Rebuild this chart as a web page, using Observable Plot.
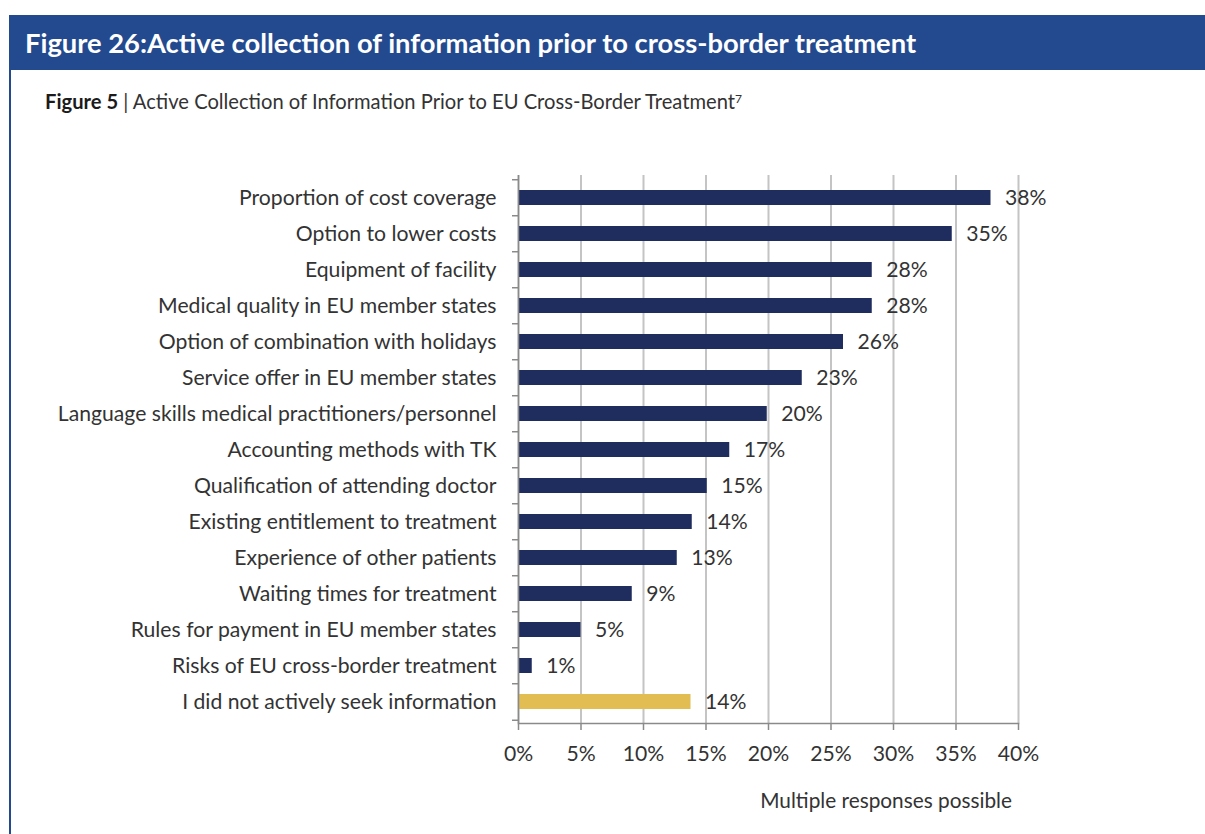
<!DOCTYPE html>
<html><head><meta charset="utf-8">
<script src="https://cdn.jsdelivr.net/npm/d3@7"></script>
<script src="https://cdn.jsdelivr.net/npm/@observablehq/plot@0.6"></script>
<style>
html,body{margin:0;padding:0;background:#fff}
body{width:1205px;height:834px;overflow:hidden;position:relative;font-family:Lato,"Noto Sans",sans-serif}
#header{position:absolute;left:9px;top:15px;width:1196px;height:55px;background:#234a8f}
#title{position:absolute;left:16px;top:0;height:55px;line-height:55px;color:#fff;font-weight:bold;white-space:nowrap}
#leftborder{position:absolute;left:9px;top:70px;width:2px;height:764px;background:#234a8f}
#subtitle{position:absolute;left:45px;top:88px;line-height:26px;color:#333;white-space:nowrap}
#subtitle b{color:#1b1b1b}
#subtitle sup{font-size:60%;vertical-align:top;position:relative;top:-2px}
#chart{position:absolute;left:0;top:150px}
#note{position:absolute;right:193px;top:787px;line-height:26px;color:#333;white-space:nowrap}
</style></head>
<body>
<div id="header"><div id="title"></div></div>
<div id="leftborder"></div>
<div id="subtitle"></div>
<div id="chart"></div>
<div id="note"></div>
<script>
const titleText = "Figure 26:Active collection of information prior to cross-border treatment";
const subtitleBold = "Figure 5";
const subtitleRest = " | Active Collection of Information Prior to EU Cross-Border Treatment";
const subtitleSup = "7";
const noteText = "Multiple responses possible";

const categories = [
  "Proportion of cost coverage",
  "Option to lower costs",
  "Equipment of facility",
  "Medical quality in EU member states",
  "Option of combination with holidays",
  "Service offer in EU member states",
  "Language skills medical practitioners/personnel",
  "Accounting methods with TK",
  "Qualification of attending doctor",
  "Existing entitlement to treatment",
  "Experience of other patients",
  "Waiting times for treatment",
  "Rules for payment in EU member states",
  "Risks of EU cross-border treatment",
  "I did not actively seek information"
];
const values = [37.8, 34.7, 28.3, 28.3, 26.0, 22.7, 19.9, 16.9, 15.1, 13.9, 12.7, 9.1, 5.0, 1.1, 13.8];
const valueLabels = ["38%","35%","28%","28%","26%","23%","20%","17%","15%","14%","13%","9%","5%","1%","14%"];
const groups = ["info","info","info","info","info","info","info","info","info","info","info","info","info","info","none"];
const xTicks = [0, 5, 10, 15, 20, 25, 30, 35, 40];
const xTickLabels = ["0%","5%","10%","15%","20%","25%","30%","35%","40%"];

const data = categories.map((c, i) => ({cat: c, value: values[i], label: valueLabels[i], group: groups[i]}));

const ctx = document.createElement("canvas").getContext("2d");
function fit(text, font, target) { ctx.font = font.replace("SIZE", "100px"); return 100 * target / ctx.measureText(text).width; }

const labelFont = "Lato";
const fs = fit("Language skills medical practitioners/personnel", "SIZE Lato", 439);
const titleFs = fit(titleText, "bold SIZE Lato", 893);
const subFs = fit(subtitleBold + subtitleRest, "SIZE Lato", 692);

const t = document.getElementById("title");
t.textContent = titleText; t.style.fontSize = titleFs + "px";
const s = document.getElementById("subtitle");
s.style.fontSize = subFs + "px";
s.innerHTML = "<b>" + subtitleBold + "</b>" + subtitleRest + "<sup>" + subtitleSup + "</sup>";
const n = document.getElementById("note");
n.textContent = noteText; n.style.fontSize = fit(noteText, "SIZE Lato", 252) + "px";

const W = 1205, H = 660, mT = 25, mB = 87, mL = 518, mR = 187;
const step = (H - mT - mB) / categories.length;

const chart = Plot.plot({
  width: W, height: H,
  marginTop: mT, marginBottom: mB, marginLeft: mL, marginRight: mR,
  style: {fontFamily: labelFont, fontSize: fs + "px", color: "#333", background: "transparent", overflow: "visible"},
  x: {domain: [0, 40], label: null},
  y: {domain: categories, paddingInner: 0.59, paddingOuter: 0.295, label: null},
  color: {domain: ["info", "none"], range: ["#1f2d5e", "#e2bd52"]},
  marks: [
    Plot.gridX(xTicks, {stroke: "#c4c4c4", strokeOpacity: 1, strokeWidth: 2}),
    Plot.barX(data, {x: "value", y: "cat", fill: "group"}),
    Plot.text(data, {x: "value", y: "cat", text: "label", dx: 14, textAnchor: "start", fill: "#333", fontSize: fs}),
    Plot.ruleX([0], {stroke: "#8a8a8a", strokeWidth: 1.5}),
    Plot.frame({anchor: "bottom", stroke: "#8a8a8a", strokeWidth: 1.5}),
    Plot.ruleY(categories, {y: d => d, x1: -0.48, x2: 0, dy: -step / 2, stroke: "#8a8a8a", strokeWidth: 1.5, clip: false}),
    Plot.ruleY(categories.slice(-1), {y: d => d, x1: -0.48, x2: 0, dy: step / 2, stroke: "#8a8a8a", strokeWidth: 1.5, clip: false}),
    Plot.axisX({ticks: xTicks, tickFormat: (d) => xTickLabels[xTicks.indexOf(d)], tickSize: 7, tickPadding: 15, stroke: "#8a8a8a", strokeWidth: 1.5, fill: "#333", fontSize: fs, label: null}),
    Plot.axisY({tickSize: 0, tickPadding: 22, fill: "#333", fontSize: fs, label: null})
  ]
});
document.getElementById("chart").appendChild(chart);
</script>
</body></html>
